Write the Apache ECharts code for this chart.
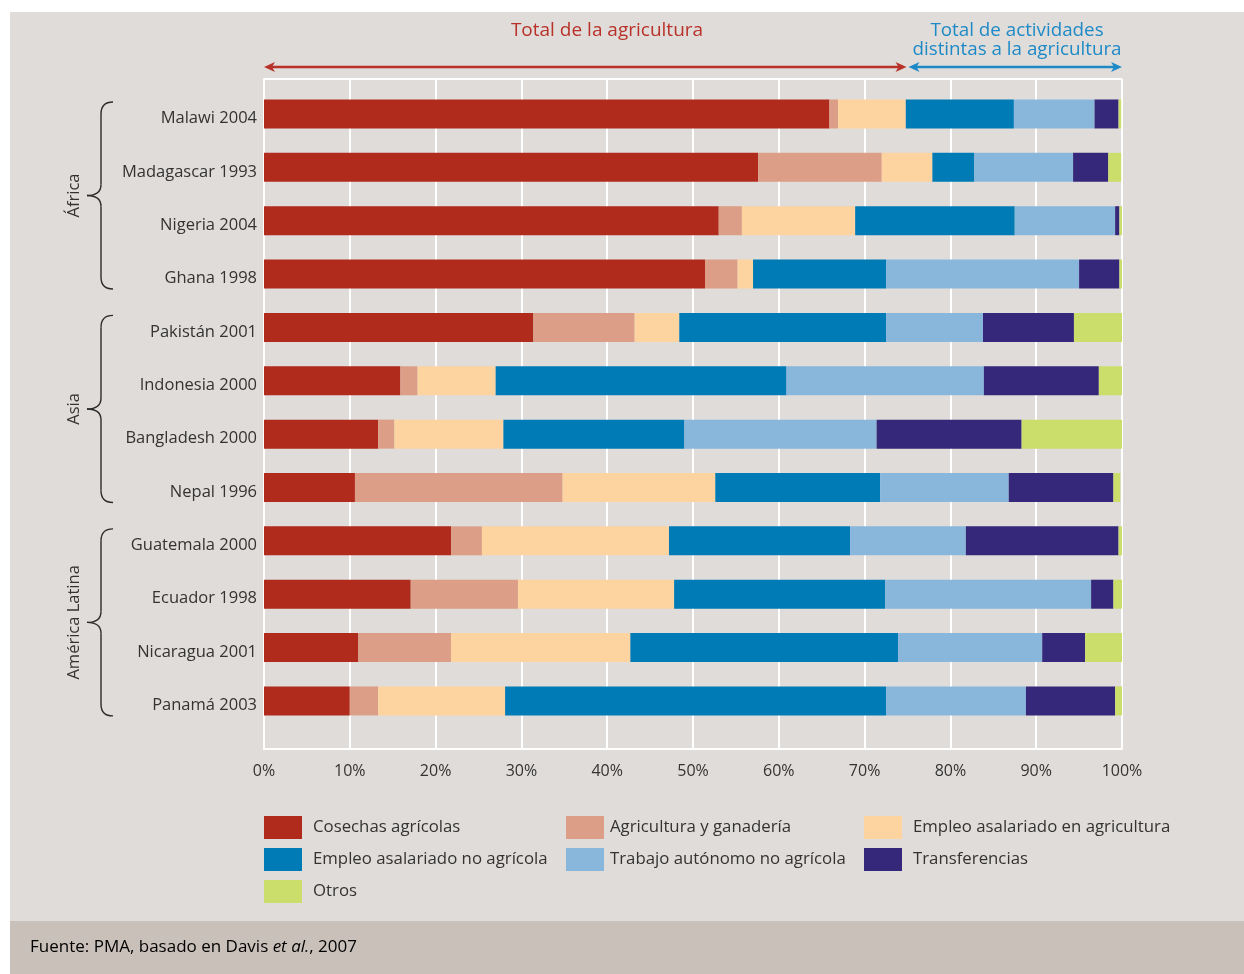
<!DOCTYPE html>
<html>
<head>
<meta charset="utf-8">
<script src="https://cdn.jsdelivr.net/npm/echarts@6/dist/echarts.min.js"></script>
<style>
  html, body { margin: 0; padding: 0; background: #ffffff; }
  #panel { position: absolute; left: 10px; top: 12px; width: 1234px; height: 909px; background: #e0dcd9; }
  #foot { position: absolute; left: 10px; top: 921px; width: 1234px; height: 53px; background: #c9c1b9; }
  #chart { position: absolute; left: 0; top: 0; width: 1244px; height: 974px; }
</style>
</head>
<body>
<div id="panel"></div>
<div id="foot"></div>
<div id="chart"></div>
<script>
// Income shares by source, rural households (percent of total income)
const categories = [
  'Malawi 2004', 'Madagascar 1993', 'Nigeria 2004', 'Ghana 1998',
  'Pakistán 2001', 'Indonesia 2000', 'Bangladesh 2000', 'Nepal 1996',
  'Guatemala 2000', 'Ecuador 1998', 'Nicaragua 2001', 'Panamá 2003'
];
const cosechas       = [65.9, 57.6, 53.0, 51.4, 31.4, 15.9, 13.3, 10.6, 21.8, 17.1, 11.0, 10.0];
const agriGanaderia  = [ 1.0, 14.4,  2.7,  3.8, 11.8,  2.0,  1.9, 24.2,  3.6, 12.5, 10.8,  3.3];
const empleoAgri     = [ 7.9,  5.9, 13.2,  1.8,  5.2,  9.1, 12.7, 17.8, 21.8, 18.2, 20.9, 14.8];
const empleoNoAgri   = [12.6,  4.9, 18.6, 15.5, 24.1, 33.9, 21.1, 19.2, 21.1, 24.6, 31.2, 44.4];
const autonomo       = [ 9.4, 11.5, 11.7, 22.5, 11.3, 23.0, 22.4, 15.0, 13.5, 24.0, 16.8, 16.3];
const transferencias = [ 2.8,  4.1,  0.5,  4.7, 10.6, 13.4, 16.9, 12.2, 17.8,  2.6,  5.0, 10.4];
const otros          = [ 0.3,  1.5,  0.3,  0.3,  5.6,  2.8, 11.8,  0.8,  0.4,  1.0,  4.3,  0.8];

const seriesNames = [
  'Cosechas agrícolas', 'Agricultura y ganadería', 'Empleo asalariado en agricultura',
  'Empleo asalariado no agrícola', 'Trabajo autónomo no agrícola', 'Transferencias', 'Otros'
];
const seriesValues = [cosechas, agriGanaderia, empleoAgri, empleoNoAgri, autonomo, transferencias, otros];
const seriesColors = ['#b02b1c', '#dc9e86', '#fdd3a0', '#007bb6', '#89b7dc', '#35287a', '#cbdd6b'];

// x-axis ticks (percent)
const xTicks = [0, 10, 20, 30, 40, 50, 60, 70, 80, 90, 100];
// split between agricultural and non-agricultural income on the top arrows
const agriSplit = 75;

const regions = [
  { name: 'África', first: 0, last: 3 },
  { name: 'Asia', first: 4, last: 7 },
  { name: 'América Latina', first: 8, last: 11 }
];

const FONT = '"Open Sans", "Noto Sans", sans-serif';
const TEXT = '#333333';

const chart = echarts.init(document.getElementById('chart'), null, { renderer: 'canvas' });

function legendCol(left, names, gap) {
  return {
    orient: 'vertical',
    left: left,
    top: 816,
    itemWidth: 38,
    itemHeight: 23,
    itemGap: 9,
    padding: 0,
    selectedMode: false,
    icon: 'rect',
    data: names,
    textStyle: { fontFamily: FONT, fontSize: 16.8, color: TEXT, padding: [0, 0, 0, gap] }
  };
}

chart.setOption({
  backgroundColor: 'transparent',
  animation: false,
  textStyle: { fontFamily: FONT },
  grid: [
    // frame with white vertical grid lines
    { left: 264, right: 122, top: 79, bottom: 974 - 749 },
    // bar area
    { left: 264, right: 122, top: 87.3, height: 640.3 }
  ],
  xAxis: [
    {
      gridIndex: 0, type: 'value', min: xTicks[0], max: xTicks[xTicks.length - 1],
      interval: xTicks[1] - xTicks[0],
      axisLine: { show: true, lineStyle: { color: '#ffffff', width: 2 } },
      axisTick: { show: false },
      splitLine: { show: true, lineStyle: { color: '#ffffff', width: 2 } },
      axisLabel: { formatter: '{value}%', margin: 14, fontSize: 16, color: TEXT, fontFamily: FONT }
    },
    {
      gridIndex: 1, type: 'value', min: 0, max: 100, show: false
    }
  ],
  yAxis: [
    {
      gridIndex: 0, type: 'value', min: 0, max: 1, interval: 1,
      axisLine: { show: true, lineStyle: { color: '#ffffff', width: 2 } },
      axisTick: { show: false }, axisLabel: { show: false },
      splitLine: { show: true, lineStyle: { color: '#ffffff', width: 2 } }
    },
    {
      gridIndex: 1, type: 'category', data: categories, inverse: true,
      axisLine: { show: false }, axisTick: { show: false },
      axisLabel: {
        margin: 7,
        formatter: v => '{c|' + v + '}',
        rich: { c: { fontSize: 16.5, color: TEXT, fontFamily: FONT, padding: [9, 0, 0, 0] } }
      },
      splitLine: { show: false }
    }
  ],
  legend: [
    legendCol(264, [seriesNames[0], seriesNames[3], seriesNames[6]], 6),
    legendCol(566, [seriesNames[1], seriesNames[4]], 1),
    legendCol(864, [seriesNames[2], seriesNames[5]], 6)
  ],
  series: seriesNames.map((name, i) => ({
    name: name,
    type: 'bar',
    stack: 'total',
    xAxisIndex: 1,
    yAxisIndex: 1,
    barWidth: 29,
    itemStyle: { color: seriesColors[i] },
    data: seriesValues[i]
  }))
});

// Annotations placed with the axes' own pixel conversion
function px(v) { return chart.convertToPixel({ xAxisIndex: 1 }, v); }
function py(i) { return chart.convertToPixel({ yAxisIndex: 1 }, categories[i]); }

const x0 = px(0), xs = px(agriSplit), x1 = px(100);
const arrowY = 67;
const RED = '#b8322a', BLUE = '#1d8ac7';

function arrow(xa, xb, color) {
  const h = 11, w = 5;
  return [
    { type: 'line', shape: { x1: xa + 4, y1: arrowY, x2: xb - 4, y2: arrowY },
      style: { stroke: color, lineWidth: 2.5 } },
    { type: 'polygon', shape: { points: [[xa, arrowY], [xa + h, arrowY - w], [xa + h - 3, arrowY], [xa + h, arrowY + w]] },
      style: { fill: color } },
    { type: 'polygon', shape: { points: [[xb, arrowY], [xb - h, arrowY - w], [xb - h + 3, arrowY], [xb - h, arrowY + w]] },
      style: { fill: color } }
  ];
}

const graphics = [];
graphics.push(...arrow(x0, xs - 1, RED));
graphics.push(...arrow(xs + 1, x1, BLUE));
graphics.push({
  type: 'text', x: 607, y: 31,
  style: { text: 'Total de la agricultura', fill: RED, font: '19px ' + FONT, textAlign: 'center', textVerticalAlign: 'middle' }
});
graphics.push({
  type: 'text', x: 1017, y: 40,
  style: { text: 'Total de actividades\ndistintas a la agricultura', fill: BLUE, font: '18.8px ' + FONT,
           textAlign: 'center', textVerticalAlign: 'middle', lineHeight: 19 }
});

// Region braces and labels
regions.forEach(r => {
  const T = py(r.first) - 12, B = py(r.last) + 15, M = (T + B) / 2;
  const xe = 113, xv = 101, xt = 87;
  const st = { stroke: '#2b2b2b', lineWidth: 1.4, fill: null };
  graphics.push({ type: 'bezierCurve', shape: { x1: xe, y1: T, cpx1: xv, cpy1: T, x2: xv, y2: T + 12 }, style: st });
  graphics.push({ type: 'line', shape: { x1: xv, y1: T + 12, x2: xv, y2: M - 11 }, style: st });
  graphics.push({ type: 'bezierCurve', shape: { x1: xv, y1: M - 11, cpx1: xv, cpy1: M, x2: xt, y2: M }, style: st });
  graphics.push({ type: 'bezierCurve', shape: { x1: xt, y1: M, cpx1: xv, cpy1: M, x2: xv, y2: M + 11 }, style: st });
  graphics.push({ type: 'line', shape: { x1: xv, y1: M + 11, x2: xv, y2: B - 12 }, style: st });
  graphics.push({ type: 'bezierCurve', shape: { x1: xv, y1: B - 12, cpx1: xv, cpy1: B, x2: xe, y2: B }, style: st });
  graphics.push({
    type: 'text', x: 74, y: M, rotation: Math.PI / 2,
    style: { text: r.name, fill: TEXT, font: '16.5px ' + FONT, textAlign: 'center', textVerticalAlign: 'middle' }
  });
});

// Source line
graphics.push({
  type: 'text', x: 30, y: 947,
  style: {
    rich: {
      n: { fontFamily: FONT, fontSize: 17, color: '#3a3a3a' },
      i: { fontFamily: FONT, fontSize: 17, color: '#3a3a3a', fontStyle: 'italic' }
    },
    text: '{n|Fuente: PMA, basado en Davis }{i|et al.}{n|, 2007}',
    verticalAlign: 'middle'
  }
});

chart.setOption({ graphic: { elements: graphics } });
</script>
</body>
</html>
